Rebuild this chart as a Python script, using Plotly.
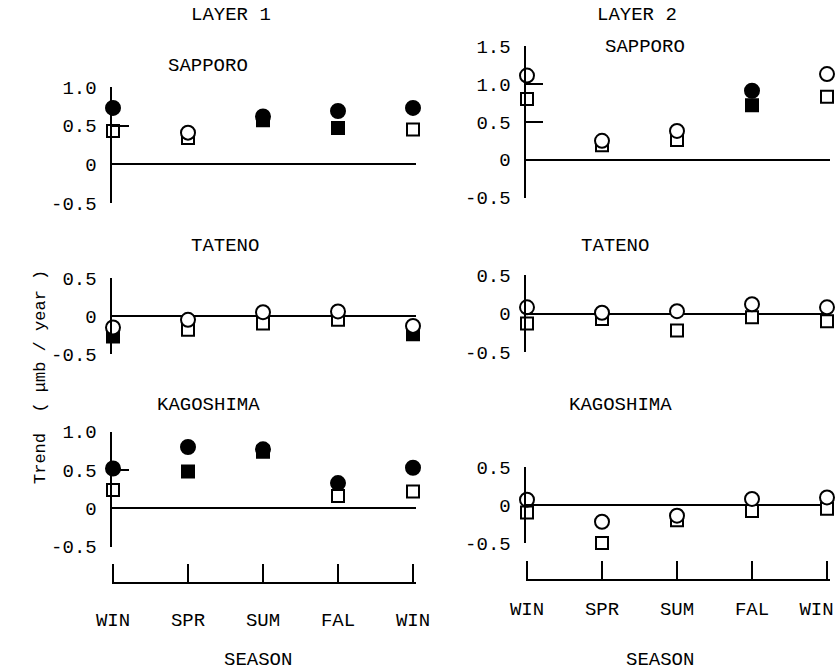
import plotly.graph_objects as go

# ---------------- data ----------------
seasons = ["WIN", "SPR", "SUM", "FAL", "WIN"]
season_pos = [0, 1, 2, 3, 4]

# circles / squares: trend values; *_filled: 1 = filled symbol, 0 = open symbol
sap1_circle = [0.73, 0.41, 0.62, 0.69, 0.73]
sap1_circle_filled = [1, 0, 1, 1, 1]
sap1_square = [0.43, 0.34, 0.57, 0.47, 0.45]
sap1_square_filled = [0, 0, 1, 1, 0]

sap2_circle = [1.11, 0.25, 0.38, 0.91, 1.13]
sap2_circle_filled = [0, 0, 0, 1, 0]
sap2_square = [0.80, 0.19, 0.26, 0.72, 0.83]
sap2_square_filled = [0, 0, 0, 1, 0]

tat1_circle = [-0.15, -0.05, 0.05, 0.06, -0.13]
tat1_circle_filled = [0, 0, 0, 0, 0]
tat1_square = [-0.27, -0.18, -0.10, -0.05, -0.24]
tat1_square_filled = [1, 0, 0, 0, 1]

tat2_circle = [0.08, 0.01, 0.03, 0.12, 0.08]
tat2_circle_filled = [0, 0, 0, 0, 0]
tat2_square = [-0.13, -0.07, -0.22, -0.05, -0.10]
tat2_square_filled = [0, 0, 0, 0, 0]

kag1_circle = [0.52, 0.80, 0.77, 0.33, 0.53]
kag1_circle_filled = [1, 1, 1, 1, 1]
kag1_square = [0.24, 0.48, 0.74, 0.16, 0.22]
kag1_square_filled = [0, 1, 1, 0, 0]

kag2_circle = [0.07, -0.22, -0.14, 0.08, 0.10]
kag2_circle_filled = [0, 0, 0, 0, 0]
kag2_square = [-0.10, -0.50, -0.20, -0.08, -0.05]
kag2_square_filled = [0, 0, 0, 0, 0]

# ---------------- layout helpers ----------------
W, H = 839, 672


def px(x):
    return x / W


def py(y):
    return 1 - y / H


FONT = "Liberation Mono, Courier New, monospace"
FS = 19

panels = [
    # data, x pixel span, y pixel span (bottom, top), y range, tick values, tick text
    dict(c=sap1_circle, cf=sap1_circle_filled, s=sap1_square, sf=sap1_square_filled,
         xs=(113, 416), ys=(203, 87), yr=[-0.5, 1.0],
         tv=[1.0, 0.5, 0, -0.5], tt=["1.0", "0.5", "0", "-0.5"], bottom=None),
    dict(c=sap2_circle, cf=sap2_circle_filled, s=sap2_square, sf=sap2_square_filled,
         xs=(527, 830), ys=(197.7, 46), yr=[-0.5, 1.5],
         tv=[1.5, 1.0, 0.5, 0, -0.5], tt=["1.5", "1.0", "0.5", "0", "-0.5"], bottom=None),
    dict(c=tat1_circle, cf=tat1_circle_filled, s=tat1_square, sf=tat1_square_filled,
         xs=(113, 416), ys=(354, 278), yr=[-0.5, 0.5],
         tv=[0.5, 0, -0.5], tt=["0.5", "0", "-0.5"], bottom=None),
    dict(c=tat2_circle, cf=tat2_circle_filled, s=tat2_square, sf=tat2_square_filled,
         xs=(527, 830), ys=(352, 275), yr=[-0.5, 0.5],
         tv=[0.5, 0, -0.5], tt=["0.5", "0", "-0.5"], bottom=None),
    dict(c=kag1_circle, cf=kag1_circle_filled, s=kag1_square, sf=kag1_square_filled,
         xs=(113, 416), ys=(546.7, 431.7), yr=[-0.5, 1.0],
         tv=[1.0, 0.5, 0, -0.5], tt=["1.0", "0.5", "0", "-0.5"], bottom=(583, 19)),
    dict(c=kag2_circle, cf=kag2_circle_filled, s=kag2_square, sf=kag2_square_filled,
         xs=(527, 830), ys=(543, 467), yr=[-0.5, 0.5],
         tv=[0.5, 0, -0.5], tt=["0.5", "0", "-0.5"], bottom=(580, 13)),
]

fig = go.Figure()
layout_axes = {}

for i, p in enumerate(panels, start=1):
    xid = "x" if i == 1 else f"x{i}"
    yid = "y" if i == 1 else f"y{i}"
    xkey = "xaxis" if i == 1 else f"xaxis{i}"
    ykey = "yaxis" if i == 1 else f"yaxis{i}"

    x0, x1 = p["xs"]
    xmin = -0.02
    xmax = 4 * (x1 - x0) / 300.0
    p["xr"] = [xmin, xmax]
    p["xdom"] = [px(x0 - 1.5), min(1.0, px(x1))]

    # squares first, circles on top
    fig.add_trace(go.Scatter(
        x=season_pos, y=p["s"], mode="markers", xaxis=xid, yaxis=yid,
        marker=dict(symbol="square", size=12,
                    color=["black" if f else "white" for f in p["sf"]],
                    line=dict(color="black", width=2)),
        cliponaxis=False, showlegend=False, hoverinfo="skip"))
    fig.add_trace(go.Scatter(
        x=season_pos, y=p["c"], mode="markers", xaxis=xid, yaxis=yid,
        marker=dict(symbol="circle", size=14,
                    color=["black" if f else "white" for f in p["cf"]],
                    line=dict(color="black", width=2)),
        cliponaxis=False, showlegend=False, hoverinfo="skip"))

    xa = dict(domain=p["xdom"], range=p["xr"], showgrid=False,
              zeroline=False, fixedrange=True, automargin=False)
    if p["bottom"] is None:
        xa.update(visible=False, anchor=yid)
    else:
        ypos, standoff = p["bottom"]
        xa.update(visible=True, anchor="free", position=py(ypos),
                  showline=True, linecolor="black", linewidth=2,
                  ticks="inside", ticklen=18, tickwidth=2, tickcolor="black",
                  tickvals=season_pos, ticktext=seasons,
                  ticklabelstandoff=standoff, ticklabeloverflow="allow",
                  tickfont=dict(family=FONT, size=FS, color="black"))
        if i == 6:
            # right column: draw the ticks here, the labels on an overlay axis
            # whose last label is nudged inward so it stays inside the page
            xa.update(showticklabels=False)
            layout_axes["xaxis7"] = dict(
                overlaying="x6", domain=p["xdom"], range=p["xr"],
                anchor="free", position=py(ypos), showline=False, ticks="",
                showgrid=False, zeroline=False, fixedrange=True, automargin=False,
                tickvals=[min(v, 3.86) for v in season_pos], ticktext=seasons,
                ticklabelstandoff=standoff + 2, ticklabeloverflow="allow",
                tickfont=dict(family=FONT, size=FS, color="black"))
            fig.add_trace(go.Scatter(x=[None], y=[None], xaxis="x7", yaxis="y6",
                                     mode="markers", showlegend=False, hoverinfo="skip"))
    layout_axes[xkey] = xa

    yb, yt = p["ys"]
    layout_axes[ykey] = dict(
        domain=[py(yb), py(yt)], range=p["yr"], anchor=xid, automargin=False,
        showgrid=False, showline=True, linecolor="black", linewidth=2,
        zeroline=True, zerolinecolor="black", zerolinewidth=2,
        ticks="inside", ticklen=17, tickwidth=2, tickcolor="black",
        tickvals=p["tv"], ticktext=p["tt"], ticklabelstandoff=9,
        tickfont=dict(family=FONT, size=FS, color="black"), fixedrange=True)

fig.update_layout(**layout_axes)

texts = [
    ("LAYER 1", 231, 15), ("LAYER 2", 637, 15),
    ("SAPPORO", 208, 66), ("SAPPORO", 645, 47),
    ("TATENO", 225, 246), ("TATENO", 615, 246),
    ("KAGOSHIMA", 208, 405), ("KAGOSHIMA", 620, 405),
    ("SEASON", 258, 660), ("SEASON", 660, 660),
]
annotations = [
    dict(text=t, x=px(x), y=py(y), xref="paper", yref="paper",
         xanchor="center", yanchor="middle", showarrow=False,
         font=dict(family=FONT, size=FS, color="black"))
    for t, x, y in texts
]
annotations.append(dict(
    text="Trend  ( \u03bcmb / year )", x=px(40), y=py(377), xref="paper", yref="paper",
    xanchor="center", yanchor="middle", showarrow=False, textangle=-90,
    font=dict(family=FONT, size=17, color="black")))

fig.update_layout(
    width=W, height=H, autosize=False,
    margin=dict(l=0, r=0, t=0, b=0, pad=0),
    paper_bgcolor="white", plot_bgcolor="white",
    annotations=annotations, showlegend=False,
)

# remove the default 8px page margin so the figure fills the window exactly
fig.write_html("out.html", config={"displayModeBar": False},
               post_script="document.body.style.margin='0';document.body.style.overflow='hidden';")
